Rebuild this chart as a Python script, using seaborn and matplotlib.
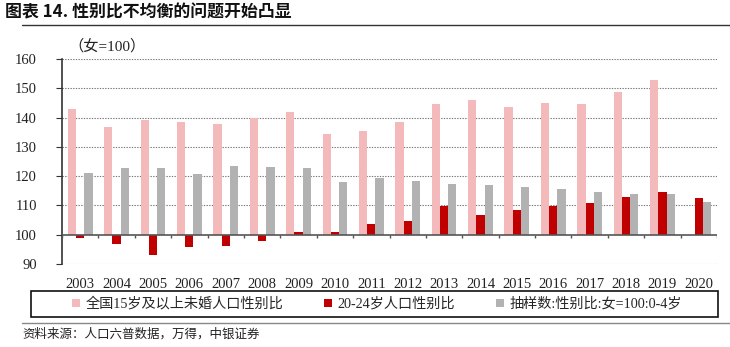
import numpy as np
import pandas as pd
import matplotlib
matplotlib.use("Agg")
import matplotlib.pyplot as plt
import seaborn as sns
from matplotlib.patches import Rectangle
from matplotlib.lines import Line2D

years = [str(y) for y in range(2003, 2021)]
unmarried_15plus = [143.0, 136.8, 139.3, 138.5, 137.8, 139.9, 141.8, 134.4, 135.5, 138.4,
                    144.7, 146.0, 143.5, 144.9, 144.5, 148.9, 153.0, np.nan]
age_20_24 = [98.8, 96.9, 93.2, 95.8, 96.1, 98.0, 100.9, 101.0, 103.7, 104.7,
             109.9, 106.9, 108.5, 109.7, 111.0, 113.0, 114.7, 112.6]
age_0_4 = [121.2, 122.7, 122.7, 120.8, 123.6, 123.2, 122.7, 118.0, 119.2, 118.4,
           117.3, 116.9, 116.4, 115.7, 114.7, 114.0, 113.8, 111.1]
series_names = ["全国15岁及以上未婚人口性别比", "20-24岁人口性别比", "抽样数:性别比:女=100:0-4岁"]
colors = ["#F4B9BA", "#C00000", "#B2B2B2"]
yticks = [90, 100, 110, 120, 130, 140, 150, 160]
unit_label = "（女=100）"
title = "图表 14. 性别比不均衡的问题开始凸显"
source = "资料来源：人口六普数据，万得，中银证券"

sns.set_theme(style="white")
plt.rcParams["font.family"] = ["Liberation Serif", "Noto Sans CJK SC", "DejaVu Sans"]

df = pd.DataFrame({
    "year": years * 3,
    "series": [series_names[0]] * 18 + [series_names[1]] * 18 + [series_names[2]] * 18,
    "value": unmarried_15plus + age_20_24 + age_0_4,
})
df["delta"] = df["value"] - 100

fig = plt.figure(figsize=(7.30, 3.47), dpi=100)
ax = fig.add_axes([62 / 730, 1 - 264 / 347, (717 - 62) / 730, (264 - 59) / 347])

sns.barplot(data=df, x="year", y="delta", hue="series", hue_order=series_names,
            palette=colors, width=0.68, errorbar=None, bottom=100, ax=ax,
            legend=False, saturation=1, linewidth=0)

ax.set_ylim(90, 160)
ax.set_xlim(-0.5, 17.5)
ax.set_yticks(yticks)
ax.set_yticklabels([str(t) for t in yticks], fontsize=10.5, color="#222222")
ax.set_xlabel("")
ax.set_ylabel("")
ax.tick_params(axis="x", length=0, pad=10, labelsize=10.5, labelcolor="#222222")
ax.tick_params(axis="y", length=4, width=0.8, color="#333333", direction="out", pad=14, left=True)
for t in yticks:
    if t != 100:
        ax.axhline(t, color="#777777", linestyle=(0, (1.2, 1.2)), linewidth=0.8, zorder=0)
ax.axhline(100, color="#555555", linewidth=1.2, zorder=3)
for b in np.arange(-0.5, 18, 1.0):
    ax.vlines(b, 99.0, 100, color="#555555", linewidth=1.0, zorder=3)
for s in ["top", "right", "bottom"]:
    ax.spines[s].set_visible(False)
ax.spines["left"].set_color("#333333")
ax.spines["left"].set_linewidth(1.2)
ax.grid(False)

ax.text(0.01, 1.025, unit_label, transform=ax.transAxes, fontsize=11, ha="left", va="bottom",
        color="#222222")

# title
fig.text(5 / 730, 1 - 12 / 347, title, fontsize=12.2, fontweight="bold", ha="left", va="center",
         family=["Noto Sans CJK SC", "DejaVu Sans"], color="#111111")
fig.add_artist(Line2D([22 / 730, 1.0], [1 - 25 / 347] * 2, color="#333333", linewidth=1.0))

# legend box
box_l, box_r, box_t, box_b = 31 / 730, 718 / 730, 1 - 291 / 347, 1 - 317 / 347
fig.add_artist(Rectangle((box_l, box_b), box_r - box_l, box_t - box_b, transform=fig.transFigure,
                         fill=False, edgecolor="#111111", linewidth=1.2))
handles = [Rectangle((0, 0), 1, 1, facecolor=c, edgecolor="none") for c in colors]
fig.legend(handles, series_names, loc="center left",
           bbox_to_anchor=(72 / 730, (box_t + box_b) / 2), ncol=3, frameon=False,
           handlelength=0.55, handleheight=0.55, handletextpad=0.4,
           columnspacing=2.9, borderpad=0, borderaxespad=0,
           prop={"family": ["Liberation Serif", "Noto Sans CJK SC"], "size": 10.2})

fig.add_artist(Line2D([22 / 730, 1.0], [1 - 323 / 347] * 2, color="#888888", linewidth=1.0))
fig.text(22 / 730, 1 - 334 / 347, source, fontsize=9, style="italic", ha="left", va="center",
         family=["Noto Sans CJK SC", "DejaVu Sans"], color="#222222")

fig.savefig("out.png", dpi=100)
